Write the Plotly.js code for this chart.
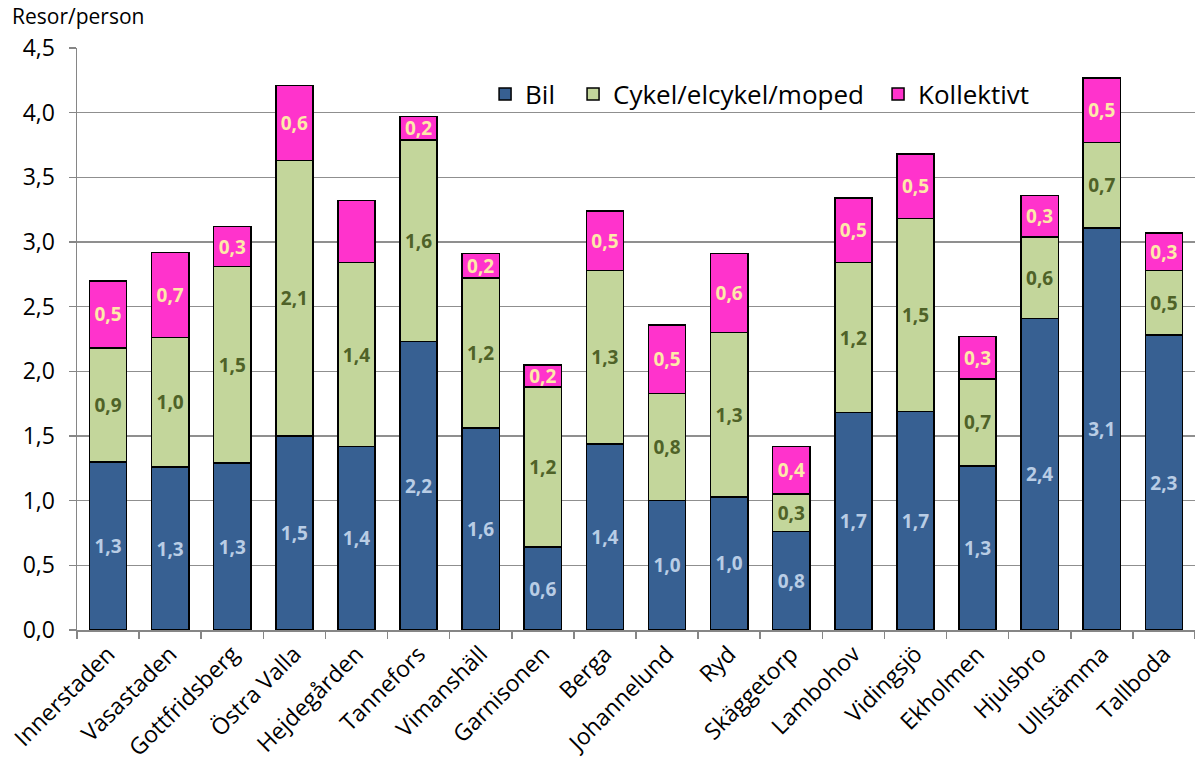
<!DOCTYPE html>
<html>
<head>
<meta charset="utf-8">
<script src="https://cdn.plot.ly/plotly-3.0.1.min.js"></script>
<style>html,body{margin:0;padding:0;background:#fff;}#chart{width:1195px;height:762px;}</style>
</head>
<body>
<div id="chart"></div>
<script>
const categories = ["Innerstaden","Vasastaden","Gottfridsberg","Östra Valla","Hejdegården","Tannefors","Vimanshäll","Garnisonen","Berga","Johannelund","Ryd","Skäggetorp","Lambohov","Vidingsjö","Ekholmen","Hjulsbro","Ullstämma","Tallboda"];
const bil        = [1.30,1.26,1.29,1.50,1.42,2.23,1.56,0.64,1.44,1.00,1.03,0.76,1.68,1.69,1.27,2.41,3.11,2.28];
const cykel      = [0.88,1.00,1.52,2.13,1.42,1.56,1.16,1.24,1.34,0.83,1.27,0.29,1.16,1.49,0.67,0.63,0.66,0.50];
const kollektivt = [0.52,0.66,0.31,0.58,0.48,0.18,0.19,0.17,0.46,0.53,0.61,0.37,0.50,0.50,0.33,0.32,0.50,0.29];
// data label shown? (Hejdegården Kollektivt has no label in the original)
const kollektivtLabelShown = [1,1,1,1,0,1,1,1,1,1,1,1,1,1,1,1,1,1];

const FONT = "'Open Sans', sans-serif";
const lineStyle = {color: "#000000", width: 1.5};
function mk(name, vals, color, txtColor, legendId, shown) {
  return {
    type: "bar", name: name, x: categories, y: vals, legend: legendId,
    marker: {color: color, line: lineStyle},
    texttemplate: shown ? shown.map(s => s ? "%{y:.1f}" : "") : "%{y:.1f}",
    textposition: "inside", insidetextanchor: "middle", textangle: 0,
    constraintext: "none",
    textfont: {family: FONT, size: 19, color: txtColor, weight: "bold"},
    hoverinfo: "skip"
  };
}
const traces = [
  mk("Bil", bil, "#376092", "#b9cde5", "legend"),
  mk("Cykel/elcykel/moped", cykel, "#c3d69b", "#4f6228", "legend2"),
  mk("Kollektivt", kollektivt, "#ff33cc", "#fde9a9", "legend3", kollektivtLabelShown)
];

function leg(x) {
  return {orientation: "h", x: x, xanchor: "left", y: 0.921, yanchor: "middle",
          font: {family: FONT, size: 26, color: "#000"},
          bgcolor: "rgba(255,255,255,0)", itemclick: false};
}

const layout = {
  width: 1195, height: 762,
  margin: {l: 77, r: 0, t: 48, b: 132},
  barmode: "stack", bargap: 0.4,
  separators: ", ",
  paper_bgcolor: "#ffffff", plot_bgcolor: "#ffffff",
  font: {family: FONT, color: "#000000"},
  showlegend: true,
  legend: leg(0.365),
  legend2: leg(0.4437),
  legend3: leg(0.7165),
  xaxis: {type: "category", tickangle: -45, tickfont: {family: FONT, size: 23, color: "#000"},
          showline: true, linecolor: "#868686", linewidth: 1.5,
          ticks: "outside", tickson: "boundaries", ticklen: 7, tickcolor: "#868686", tickwidth: 1.5,
          showgrid: false, range: [-0.5, 17.5], fixedrange: true},
  yaxis: {range: [0, 4.5], dtick: 0.5, tickformat: ".1f",
          tickfont: {family: FONT, size: 23, color: "#000"}, ticklabelstandoff: 9,
          showline: true, linecolor: "#868686", linewidth: 1.5,
          ticks: "outside", ticklen: 7, tickcolor: "#868686", tickwidth: 1.5,
          showgrid: true, gridcolor: "#8f8f8f", gridwidth: 1.5, zeroline: false, fixedrange: true},
  annotations: [{text: "Resor/person", xref: "paper", yref: "paper", x: -0.06, y: 1.0545,
                 xanchor: "left", yanchor: "middle", showarrow: false,
                 font: {family: FONT, size: 21, color: "#000"}}]
};
Plotly.newPlot("chart", traces, layout, {displayModeBar: false, staticPlot: true});
</script>
</body>
</html>
